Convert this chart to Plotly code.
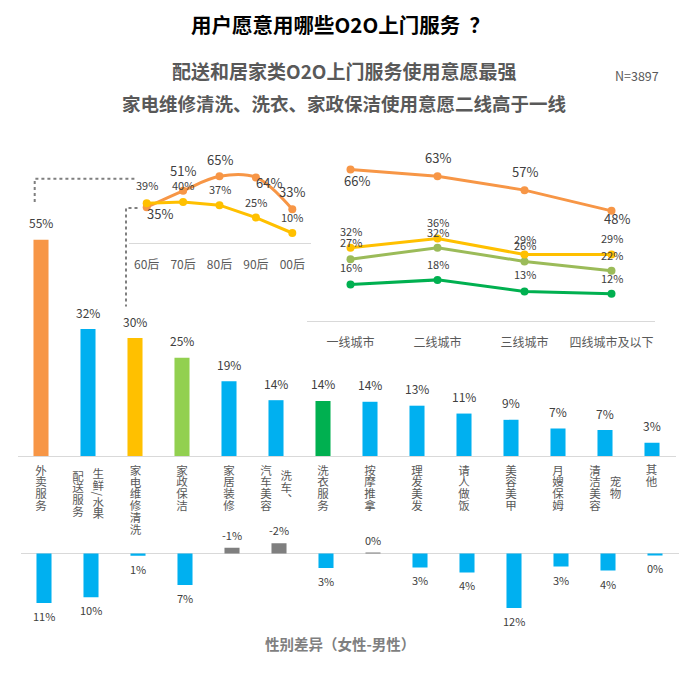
import json
import plotly.graph_objects as go

W, H = 680, 675
FONT = "Noto Sans CJK SC"

# main bars
categories = ["外卖服务", "生鲜/水果配送服务", "家电维修清洗", "家政保洁", "家居装修", "汽车美容、洗车", "洗衣服务",
              "按摩推拿", "理发美发", "请人做饭", "美容美甲", "月嫂保姆", "宠物清洁美容", "其他"]
usage = [55, 32.3, 30, 25, 19, 14.2, 14, 13.8, 12.8, 10.8, 9.2, 7, 6.6, 3.4]
usage_labels = ["55%", "32%", "30%", "25%", "19%", "14%", "14%", "14%", "13%", "11%", "9%", "7%", "7%", "3%"]

# how each category is wrapped into vertical columns (left column first)
category_columns = [["外卖服务"], ["配送服务", "生鲜/水果"], ["家电维修清洗"], ["家政保洁"], ["家居装修"],
                    ["汽车美容", "洗车、"], ["洗衣服务"], ["按摩推拿"], ["理发美发"], ["请人做饭"], ["美容美甲"],
                    ["月嫂保姆"], ["清洁美容", "宠物"], ["其他"]]

# gender difference, drawn downwards
gender_diff = [11, 9.7, 0.5, 7, -1.3, -2.3, 3.2, -0.2, 3.1, 4.2, 12.1, 2.9, 3.8, 0.3]
gender_labels = ["11%", "10%", "1%", "7%", "-1%", "-2%", "3%", "0%", "3%", "4%", "12%", "3%", "4%", "0%"]

# age inset
ages = ["60后", "70后", "80后", "90后", "00后"]
age_delivery = [35, 51, 65, 64, 33]
age_repair = [39, 40, 37, 25, 10]

# city tier inset
cities = ["一线城市", "二线城市", "三线城市", "四线城市及以下"]
city_delivery = [66, 63, 57, 48]
city_repair = [32, 36, 29, 29]
city_cleaning = [27, 32, 26, 22]
city_laundry = [16, 18, 13, 12]

ORANGE = "#F79646"
BLUE = "#00B0F0"
YELLOW = "#FFC000"
LIGHT_GREEN = "#92D050"
OLIVE = "#9BBB59"
GREEN = "#00B050"
GREY = "#7F7F7F"
AXIS = "#D9D9D9"
LABEL = "#404040"
TICK = "#595959"

bar_colors = [ORANGE, BLUE, YELLOW, LIGHT_GREEN, BLUE, BLUE, GREEN, BLUE, BLUE, BLUE, BLUE, BLUE, BLUE, BLUE]
diff_colors = [GREY if v < 0 else BLUE for v in gender_diff]


def px_x(x):
    return x / W


def px_y(y):
    return 1 - y / H


fig = go.Figure()

fig.add_trace(go.Bar(x=categories, y=usage, marker=dict(color=bar_colors, line_width=0), xaxis="x", yaxis="y"))
fig.add_trace(go.Bar(x=categories, y=gender_diff, marker=dict(color=diff_colors, line_width=0), xaxis="x2", yaxis="y2"))


def add_line(x, y, color, xaxis, yaxis, shape="linear"):
    fig.add_trace(go.Scatter(x=x, y=y, mode="lines+markers", xaxis=xaxis, yaxis=yaxis, cliponaxis=False,
                             line=dict(color=color, width=3, shape=shape, smoothing=1.0),
                             marker=dict(color=color, size=8)))


add_line(ages, age_delivery, ORANGE, "x3", "y3", shape="spline")
add_line(ages, age_repair, YELLOW, "x3", "y3")
add_line(cities, city_delivery, ORANGE, "x4", "y4")
add_line(cities, city_cleaning, OLIVE, "x4", "y4")
add_line(cities, city_repair, YELLOW, "x4", "y4")
add_line(cities, city_laundry, GREEN, "x4", "y4")

annotations = []


def note(text, x, y, size=12, color=LABEL, xref="paper", yref="paper", dx=0, dy=0, bold=False):
    if bold:
        text = "<b>" + text + "</b>"
    annotations.append(dict(text=text, x=x, y=y, xref=xref, yref=yref, xshift=dx, yshift=dy, showarrow=False,
                            xanchor="center", yanchor="middle",
                            font=dict(family=FONT, size=size, color=color)))


# value labels
for c, v, t in zip(categories, usage, usage_labels):
    note(t, c, v, xref="x", yref="y", dy=17)
for c, v, t in zip(categories, gender_diff, gender_labels):
    note(t, c, v, xref="x2", yref="y2", dy=-13 if v > 0 else 13, size=11)

age_labels = [
    (age_delivery, ["35%", "51%", "65%", "64%", "33%"], [13, 0, 0, 13, 0], [-6, 20, 17, -5, 18], 13),
    (age_repair, ["39%", "40%", "37%", "25%", "10%"], [0, 0, 0, 0, 0], [18, 17, 16, 16, 16], 11),
]
for values, texts, dxs, dys, size in age_labels:
    for c, v, t, dx, dy in zip(ages, values, texts, dxs, dys):
        note(t, c, v, xref="x3", yref="y3", dx=dx, dy=dy, size=size)

city_labels = [
    (city_delivery, ["66%", "63%", "57%", "48%"], [6, 0, 0, 5], [-11, 19, 19, -8], 13),
    (city_repair, ["32%", "36%", "29%", "29%"], [0, 0, 0, 0], [17, 16, 16, 17], 11),
    (city_cleaning, ["27%", "32%", "26%", "22%"], [0, 0, 0, 0], [17, 16, 16, 16], 11),
    (city_laundry, ["16%", "18%", "13%", "12%"], [0, 0, 0, 0], [17, 16, 17, 16], 11),
]
for values, texts, dxs, dys, size in city_labels:
    for c, v, t, dx, dy in zip(cities, values, texts, dxs, dys):
        note(t, c, v, xref="x4", yref="y4", dx=dx, dy=dy, size=size)

# category names: one annotation per column, turned vertical by the script below
PITCH = 11.8
vertical_texts = []
for cat, cols in zip(categories, category_columns):
    longest = max(len(col) for col in cols)
    for n, col in enumerate(cols):
        shift = 0 if len(cols) == 1 else (-10 if n == 0 else 10.5)
        note(col, cat, px_y(465 + (longest - 1) * PITCH / 2), color=TICK, xref="x", dx=shift, size=11.5)
        vertical_texts.append(col)

# titles
note("用户愿意用哪些O2O上门服务  ？", px_x(340), px_y(24), size=20.5, color="#000000", bold=True)
note("配送和居家类O2O上门服务使用意愿最强", px_x(344), px_y(71), size=19, color=TICK, bold=True)
note("家电维修清洗、洗衣、家政保洁使用意愿二线高于一线", px_x(344), px_y(103), size=18.5, color=TICK, bold=True)
note("N=3897", px_x(637), px_y(75), size=12.5, color=TICK)
note("性别差异（女性-男性）", px_x(340), px_y(643), size=14.5, color=GREY, bold=True)

# dotted connectors from the bars to the insets
dotted = dict(type="path", xref="paper", yref="paper", line=dict(color=GREY, width=2, dash="dot"))
shapes = [
    dict(dotted, path=f"M {px_x(34.7)} {px_y(202)} L {px_x(34.7)} {px_y(178.7)} L {px_x(136)} {px_y(178.7)}"),
    dict(dotted, path=f"M {px_x(137.5)} {px_y(208)} L {px_x(126)} {px_y(208)} L {px_x(126)} {px_y(306.5)}"),
]


def cat_axis(x0, x1, y_name, count, line=True, ticklen=0, show=True):
    return dict(domain=[px_x(x0), px_x(x1)], anchor=y_name, type="category", range=[-0.5, count - 0.5],
                showgrid=False, zeroline=False, showline=line, linecolor=AXIS, linewidth=1, showticklabels=show,
                ticks="outside" if show else "", ticklen=ticklen, tickcolor="rgba(0,0,0,0)",
                tickfont=dict(family=FONT, size=12, color=TICK))


def val_axis(y_top, y_bottom, rng, x_name):
    return dict(domain=[px_y(y_bottom), px_y(y_top)], anchor=x_name, range=rng, visible=False, showgrid=False)


yaxis2 = val_axis(535.5, 616.5, [14, -4], "x2")
yaxis2.update(visible=True, showticklabels=False, zeroline=True, zerolinecolor=AXIS, zerolinewidth=1, showline=False)

fig.update_layout(
    width=W, height=H, margin=dict(l=0, r=0, t=0, b=0), autosize=False,
    paper_bgcolor="white", plot_bgcolor="rgba(0,0,0,0)", showlegend=False, bargap=0.68,
    font=dict(family=FONT),
    xaxis=cat_axis(17.5, 675.5, "y", len(categories), show=False),
    yaxis=val_axis(220.2, 456, [0, 60], "x"),
    xaxis2=cat_axis(20.5, 678.5, "y2", len(categories), line=False, show=False),
    yaxis2=yaxis2,
    xaxis3=cat_axis(128.5, 310.5, "y3", len(ages), ticklen=10),
    yaxis3=val_axis(130, 243.3, [0, 110], "x3"),
    xaxis4=cat_axis(307, 655, "y4", len(cities), ticklen=10),
    yaxis4=val_axis(160, 321.3, [0, 70.1], "x4"),
    annotations=annotations, shapes=shapes,
)

# plotly has no vertical text, so flip the category columns once the page is drawn
post_script = """
document.body.style.margin = '0';
var verticalTexts = %s;
document.querySelectorAll('.annotation-text').forEach(function (t) {
    if (verticalTexts.indexOf(t.textContent) >= 0) {
        t.style.writingMode = 'vertical-rl';
        t.style.textOrientation = 'mixed';
        t.style.letterSpacing = '0.3px';
    }
});
""" % json.dumps(vertical_texts, ensure_ascii=False)

fig.write_html("out.html", config=dict(displayModeBar=False), post_script=post_script)
